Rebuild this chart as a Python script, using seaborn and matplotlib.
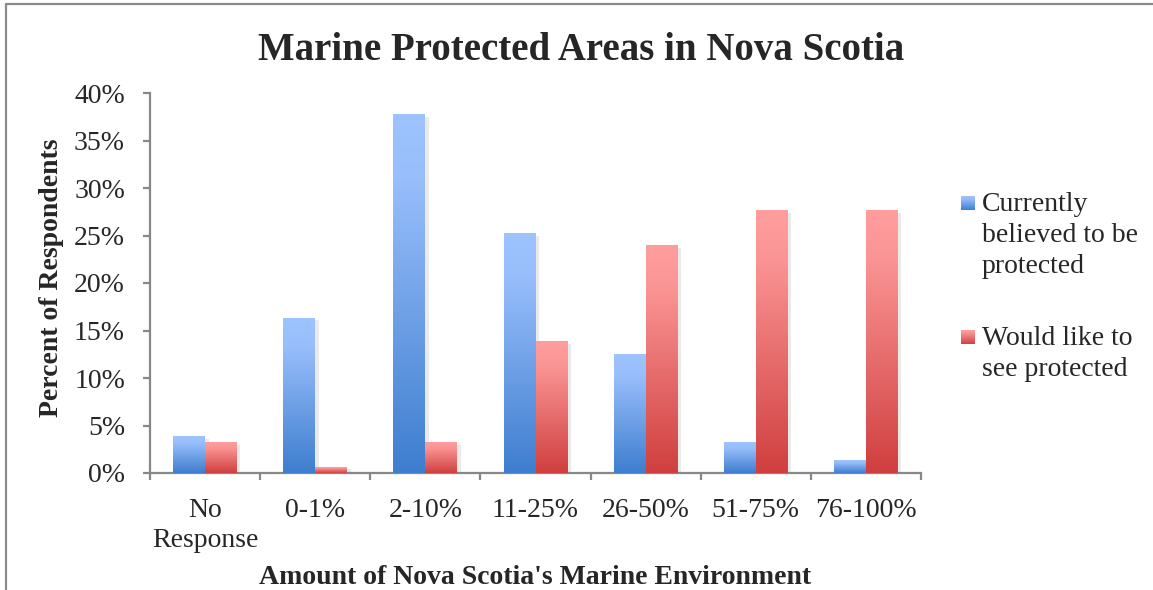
import numpy as np
import pandas as pd
import seaborn as sns
import matplotlib
matplotlib.use("Agg")
import matplotlib.pyplot as plt
from matplotlib.colors import LinearSegmentedColormap
from matplotlib import patheffects as pe

# Survey results (percent of respondents)
categories = ["No\nResponse", "0-1%", "2-10%", "11-25%", "26-50%", "51-75%", "76-100%"]
currently_protected = [3.8, 16.3, 37.7, 25.2, 12.5, 3.2, 1.3]
would_like_protected = [3.2, 0.6, 3.2, 13.8, 23.9, 27.6, 27.6]
series_names = ["Currently\nbelieved to be\nprotected", "Would like to\nsee protected"]
y_ticks = [0, 5, 10, 15, 20, 25, 30, 35, 40]

title = "Marine Protected Areas in Nova Scotia"
x_label = "Amount of Nova Scotia's Marine Environment"
y_label = "Percent of Respondents"

df = pd.DataFrame({
    "Amount": categories * 2,
    "Percent": currently_protected + would_like_protected,
    "Series": [series_names[0]] * len(categories) + [series_names[1]] * len(categories),
})

sns.set_style("white")
plt.rcParams["font.family"] = ["Liberation Serif", "DejaVu Serif"]

W, H = 1153, 590
fig = plt.figure(figsize=(W / 100, H / 100), dpi=100)
ax = fig.add_axes([150 / W, (H - 473) / H, 771 / W, 380 / H])

# light-top / dark-bottom gradients for each series
blue_cmap = LinearSegmentedColormap.from_list(
    "blue_grad", [(0.0, "#9EC4FF"), (0.18, "#98BEFB"), (1.0, "#3E7ECF")])
red_cmap = LinearSegmentedColormap.from_list(
    "red_grad", [(0.0, "#FF9D9D"), (0.18, "#FB9595"), (1.0, "#D03F3F")])
cmaps = [blue_cmap, red_cmap]

sns.barplot(data=df, x="Amount", y="Percent", hue="Series",
            order=categories, hue_order=series_names,
            palette=["#6B9BE6", "#E56A6A"], width=0.58,
            errorbar=None, legend=False, ax=ax)

grad = np.linspace(0, 1, 256).reshape(-1, 1)
for cont, cmap in zip(ax.containers, cmaps):
    for bar in cont:
        x, w, h = bar.get_x(), bar.get_width(), bar.get_height()
        ax.imshow(grad, extent=[x, x + w, 0, h], origin="upper", aspect="auto",
                  cmap=cmap, interpolation="bilinear", zorder=3)
        bar.set_facecolor("none")
        bar.set_edgecolor("none")
        bar.set_path_effects([pe.SimplePatchShadow(offset=(2.5, -1.5),
                                                   shadow_rgbFace=(0.6, 0.6, 0.6),
                                                   alpha=0.2)])

ax.set_aspect("auto")
ax.set_xlim(-0.5, len(categories) - 0.5)
ax.set_ylim(0, 40)

axis_gray = "#888888"
for side in ["top", "right"]:
    ax.spines[side].set_visible(False)
for side in ["left", "bottom"]:
    ax.spines[side].set_color(axis_gray)
    ax.spines[side].set_linewidth(1.6)

ax.set_yticks(y_ticks)
ax.set_yticklabels([f"{v}%" for v in y_ticks])
ax.tick_params(axis="y", which="major", length=5, width=1.6, color=axis_gray,
               direction="out", pad=13, labelsize=20, left=True)

ax.set_xticks(range(len(categories)))
ax.set_xticklabels(categories, linespacing=1.25)
ax.set_xticks(np.arange(-0.5, len(categories), 1.0), minor=True)
ax.tick_params(axis="x", which="major", length=0, pad=18, labelsize=20)
ax.tick_params(axis="x", which="minor", length=5, width=1.6, color=axis_gray,
               direction="out", bottom=True)

ax.set_xlabel(x_label, fontsize=20, fontweight="bold")
ax.xaxis.set_label_coords(0.5, -0.241)
ax.set_ylabel(y_label, fontsize=20, fontweight="bold")
ax.yaxis.set_label_coords(-0.112, 0.515)

# overlay in pixel coordinates for title, legend and outer frame
ov = fig.add_axes([0, 0, 1, 1], zorder=5)
ov.set_xlim(0, W)
ov.set_ylim(H, 0)
ov.axis("off")
ov.patch.set_alpha(0)

ov.plot([6, 6, W + 5], [H + 5, 4, 4], color="#8A8A8A", lw=1.6, clip_on=False)

ov.text(581, 50, title, fontsize=28, fontweight="bold", ha="center", va="center")

legend_tops = [196, 330]
for top, name, cmap in zip(legend_tops, series_names, cmaps):
    ov.imshow(grad, extent=[961, 975, top + 14, top], origin="upper", aspect="auto",
              cmap=cmap, interpolation="bilinear")
    ov.text(982, top - 4, name, fontsize=20, ha="left", va="top", linespacing=1.32)

ov.set_xlim(0, W)
ov.set_ylim(H, 0)

fig.savefig("out.png", dpi=100)
